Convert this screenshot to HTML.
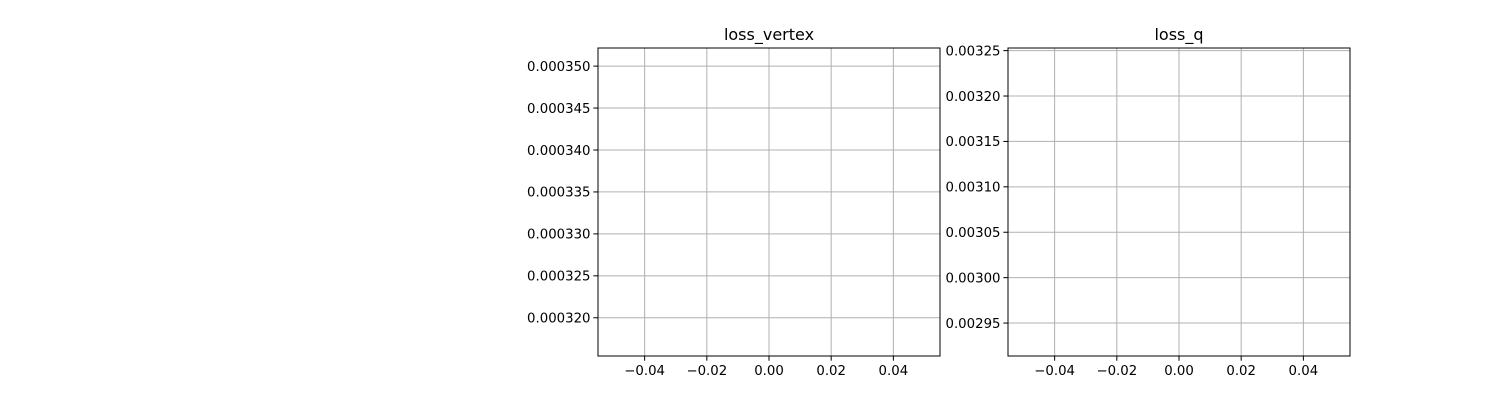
<!DOCTYPE html>
<html><head><meta charset="utf-8">
<style>
body{margin:0;background:#fff;}
svg{display:block;font-family:"DejaVu Sans","Liberation Sans",sans-serif;}
</style></head>
<body>
<svg id="fig" width="1500" height="400" viewBox="0 0 1500 400"></svg>
<script>
// Data: each panel holds a single value at x=0 (its marker isn't visible in the reference)
const titles = ["loss_vertex", "loss_q"];
const xValues = [0];
const seriesVertex = [0.0003338];
const seriesQ = [0.0030833];
const xTicks = [-0.04, -0.02, 0.00, 0.02, 0.04];
const yTicksVertex = [0.000320, 0.000325, 0.000330, 0.000335, 0.000340, 0.000345, 0.000350];
const yTicksQ = [0.00295, 0.00300, 0.00305, 0.00310, 0.00315, 0.00320, 0.00325];
const yDecimals = [6, 5];

const svg = document.getElementById('fig');
const NS = 'http://www.w3.org/2000/svg';
function mk(tag, attrs, parent){
  const e = document.createElementNS(NS, tag);
  for (const k in attrs) e.setAttribute(k, attrs[k]);
  parent.appendChild(e);
  return e;
}
const panels = [
  {left:598, right:940, top:48, bottom:356, series:seriesVertex, yTicks:yTicksVertex},
  {left:1008, right:1350, top:48, bottom:356, series:seriesQ, yTicks:yTicksQ}
];
panels.forEach((p, i) => {
  const g = mk('g', {}, svg);
  
  
  const v = p.series[0];
  const ymin = v - Math.abs(v)*0.055, ymax = v + Math.abs(v)*0.055;
  const xmin = -0.055, xmax = 0.055;
  const sx = x => p.left + (x - xmin)/(xmax - xmin)*(p.right - p.left);
  const sy = y => p.bottom - (y - ymin)/(ymax - ymin)*(p.bottom - p.top);
  xTicks.forEach(t => {
    const x = sx(t);
    const l = mk('line', {x1:x, x2:x, y1:p.top, y2:p.bottom, stroke:'#b0b0b0', 'stroke-width':1}, g);
    
    
    mk('line', {x1:x, x2:x, y1:p.bottom, y2:p.bottom+4.7, stroke:'#000', 'stroke-width':1}, g);
    const tx = mk('text', {x:x, y:p.bottom+19, 'text-anchor':'middle', 'font-size':'13.3px', fill:'#000'}, g);
    tx.textContent = (t < 0 ? '\u2212' : '') + Math.abs(t).toFixed(2);
    
    
  });
  p.yTicks.forEach(t => {
    const y = sy(t);
    const l = mk('line', {x1:p.left, x2:p.right, y1:y, y2:y, stroke:'#b0b0b0', 'stroke-width':1}, g);
    
    
    mk('line', {x1:p.left-4.7, x2:p.left, y1:y, y2:y, stroke:'#000', 'stroke-width':1}, g);
    const tx = mk('text', {x:p.left-7.5, y:y+4.8, 'text-anchor':'end', 'font-size':'13.3px', fill:'#000'}, g);
    tx.textContent = t.toFixed(yDecimals[i]);
    
    
  });
  xValues.forEach((xv, j) => {
    const c = mk('circle', {cx:sx(xv), cy:sy(p.series[j]), r:0, fill:'#1f77b4'}, g);
    
    
  });
  const fr = mk('rect', {x:p.left, y:p.top, width:p.right-p.left, height:p.bottom-p.top, fill:'none', stroke:'#000', 'stroke-width':1}, g);
  
  
  const tt = mk('text', {x:(p.left+p.right)/2, y:p.top-8, 'text-anchor':'middle', 'font-size':'16px', fill:'#000'}, g);
  tt.textContent = titles[i];
  
  
});
</script>
</body></html>
